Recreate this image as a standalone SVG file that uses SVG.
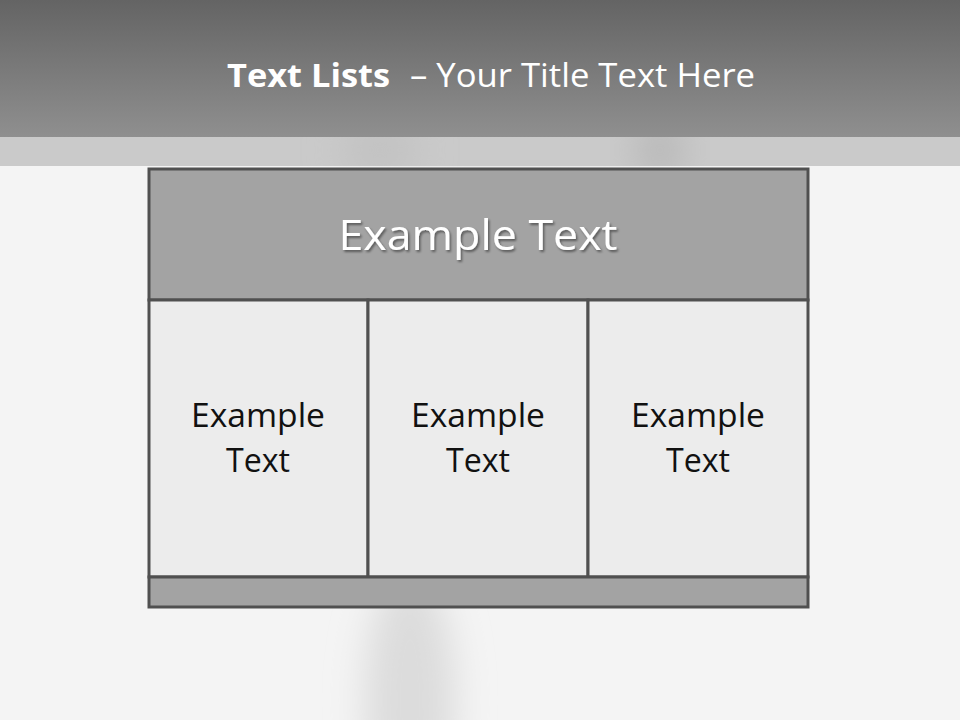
<svg xmlns="http://www.w3.org/2000/svg" width="960" height="720" viewBox="0 0 960 720">
  <defs>
    <linearGradient id="hdr" x1="0" y1="0" x2="0" y2="1">
      <stop offset="0" stop-color="#646464"/>
      <stop offset="1" stop-color="#8f8f8f"/>
    </linearGradient>
    <filter id="blur" x="-50%" y="-50%" width="200%" height="200%">
      <feGaussianBlur stdDeviation="18"/>
    </filter>
    <filter id="shadow" x="-10%" y="-20%" width="120%" height="150%">
      <feDropShadow dx="1.5" dy="2" stdDeviation="1.2" flood-color="#000" flood-opacity="0.45"/>
    </filter>
    <clipPath id="bandclip"><rect x="0" y="137" width="960" height="29"/></clipPath>
    <clipPath id="bgclip"><rect x="0" y="166" width="960" height="554"/></clipPath>
  </defs>
  <style>
    .cell { fill: #ececec; stroke: #505050; stroke-width: 3; }
    .bar { fill: #a3a3a3; stroke: #505050; stroke-width: 3; }
    .ct { font-family: "Open Sans", "Liberation Sans", sans-serif; font-size: 33px; fill: #111; text-anchor: middle; }
  </style>

  <!-- background -->
  <rect x="0" y="0" width="960" height="720" fill="#f4f4f4"/>
  <g clip-path="url(#bgclip)">
    <ellipse cx="410" cy="700" rx="45" ry="130" fill="#dcdcdc" filter="url(#blur)"/>
    <ellipse cx="500" cy="200" rx="180" ry="40" fill="#e6e6e6" filter="url(#blur)"/>
  </g>
  <!-- light band -->
  <rect x="0" y="137" width="960" height="29" fill="#cacaca"/>
  <g clip-path="url(#bandclip)">
    <ellipse cx="660" cy="150" rx="25" ry="30" fill="#b8b8b8" filter="url(#blur)"/>
    <ellipse cx="380" cy="150" rx="40" ry="30" fill="#c2c2c2" filter="url(#blur)"/>
  </g>
  <!-- header -->
  <rect x="0" y="0" width="960" height="137" fill="url(#hdr)"/>
  <text x="227" y="87" font-family="Open Sans, Liberation Sans, sans-serif" font-size="32" fill="#ffffff"><tspan font-weight="bold" textLength="163" lengthAdjust="spacingAndGlyphs">Text Lists</tspan><tspan x="410" textLength="345" lengthAdjust="spacingAndGlyphs">– Your Title Text Here</tspan></text>

  <!-- table -->
  <g id="header-cell">
    <rect class="bar" x="149" y="169" width="659" height="131"/>
    <text x="478" y="250" font-family="Open Sans, Liberation Sans, sans-serif" font-size="42" fill="#ffffff" text-anchor="middle" filter="url(#shadow)" textLength="279" lengthAdjust="spacingAndGlyphs">Example Text</text>
  </g>
  <g id="cell-1">
    <rect class="cell" x="149" y="300" width="219" height="277"/>
    <text class="ct" x="258" y="427" textLength="134" lengthAdjust="spacingAndGlyphs">Example</text>
    <text class="ct" x="258" y="472" textLength="64" lengthAdjust="spacingAndGlyphs">Text</text>
  </g>
  <g id="cell-2">
    <rect class="cell" x="368" y="300" width="220" height="277"/>
    <text class="ct" x="478" y="427" textLength="134" lengthAdjust="spacingAndGlyphs">Example</text>
    <text class="ct" x="478" y="472" textLength="64" lengthAdjust="spacingAndGlyphs">Text</text>
  </g>
  <g id="cell-3">
    <rect class="cell" x="588" y="300" width="220" height="277"/>
    <text class="ct" x="698" y="427" textLength="134" lengthAdjust="spacingAndGlyphs">Example</text>
    <text class="ct" x="698" y="472" textLength="64" lengthAdjust="spacingAndGlyphs">Text</text>
  </g>
  <g id="footer-bar">
    <rect class="bar" x="149" y="577" width="659" height="30"/>
  </g>
</svg>
